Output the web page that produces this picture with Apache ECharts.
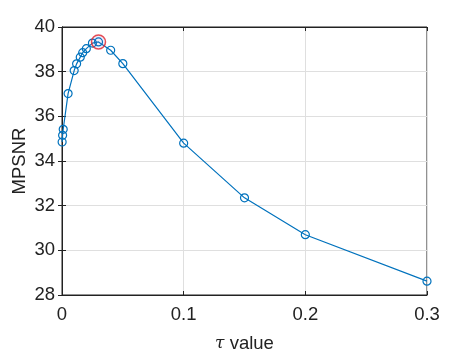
<!DOCTYPE html>
<html>
<head>
<meta charset="utf-8">
<script src="https://cdn.jsdelivr.net/npm/echarts@6/dist/echarts.min.js"></script>
<style>
  html, body { margin: 0; padding: 0; background: #fff; }
  #chart { width: 472px; height: 354px; }
</style>
</head>
<body>
<div id="chart"></div>
<script>
// tau values and MPSNR
var tauValues = [0.0001, 0.0005, 0.001, 0.005, 0.01, 0.012, 0.015, 0.017, 0.02, 0.025, 0.03, 0.04, 0.05, 0.1, 0.15, 0.2, 0.3];
var mpsnrValues = [34.85, 35.15, 35.42, 37.02, 38.05, 38.35, 38.65, 38.85, 39.03, 39.28, 39.33, 38.96, 38.36, 34.8, 32.35, 30.7, 28.62];
// best point, circled in red
var bestTau = [0.03];
var bestValue = [39.33];

var xTicks = [0, 0.1, 0.2, 0.3];
var yTicks = [28, 30, 32, 34, 36, 38, 40];

var blue = '#0072BD';
var axisColor = '#222';
var font = 'Liberation Sans, Arial, sans-serif';

var chart = echarts.init(document.getElementById('chart'));

var lineData = tauValues.map(function (t, i) { return [t, mpsnrValues[i]]; });
var bestData = bestTau.map(function (t, i) { return [t, bestValue[i]]; });

var baseX = {
    type: 'value',
    min: xTicks[0],
    max: xTicks[xTicks.length - 1],
    interval: 0.1
};
var baseY = {
    type: 'value',
    min: yTicks[0],
    max: yTicks[yTicks.length - 1],
    interval: 2
};

var option = {
    animation: false,
    backgroundColor: '#fff',
    grid: {
        left: 62, right: 45, top: 27, bottom: 59,
        outerBoundsMode: 'none',
        containLabel: false,
        show: true, borderColor: axisColor, borderWidth: 1,
        backgroundColor: 'transparent'
    },
    xAxis: [
        Object.assign({}, baseX, {
            position: 'bottom',
            name: '{t|τ} value',
            nameLocation: 'middle',
            nameGap: 39,
            nameMoveOverlap: false,
            nameTextStyle: {
                fontFamily: font, fontSize: 18.5, color: axisColor,
                rich: { t: { fontFamily: 'DejaVu Serif, serif', fontStyle: 'italic', fontSize: 17, color: axisColor } }
            },
            axisLine: { show: true, lineStyle: { color: axisColor, width: 1 } },
            axisTick: { show: true, inside: true, length: 4, lineStyle: { color: axisColor } },
            axisLabel: {
                fontFamily: font, fontSize: 18.5, color: axisColor, margin: 10,
                formatter: function (v) { return String(+v.toFixed(1)); }
            },
            splitLine: { show: true, lineStyle: { color: '#dfdfdf', width: 1 } }
        }),
        Object.assign({}, baseX, {
            position: 'top',
            axisLine: { show: true, lineStyle: { color: axisColor, width: 1 } },
            axisTick: { show: true, inside: true, length: 4, lineStyle: { color: axisColor } },
            axisLabel: { show: false },
            splitLine: { show: false }
        })
    ],
    yAxis: [
        Object.assign({}, baseY, {
            position: 'left',
            name: 'MPSNR',
            nameLocation: 'middle',
            nameGap: 33,
            nameMoveOverlap: false,
            nameTextStyle: { fontFamily: font, fontSize: 18.5, color: axisColor },
            axisLine: { show: true, lineStyle: { color: axisColor, width: 1 } },
            axisTick: { show: true, inside: true, length: 4, lineStyle: { color: axisColor } },
            axisLabel: { fontFamily: font, fontSize: 18.5, color: axisColor, margin: 7 },
            splitLine: { show: true, lineStyle: { color: '#dfdfdf', width: 1 } }
        }),
        Object.assign({}, baseY, {
            position: 'right',
            axisLine: { show: true, lineStyle: { color: axisColor, width: 1 } },
            axisTick: { show: true, inside: true, length: 4, lineStyle: { color: axisColor } },
            axisLabel: { show: false },
            splitLine: { show: false }
        })
    ],
    series: [
        {
            type: 'line',
            xAxisIndex: 0,
            yAxisIndex: 0,
            data: lineData,
            symbol: 'circle',
            symbolSize: 8,
            showAllSymbol: true,
            lineStyle: { color: blue, width: 1.2 },
            itemStyle: { color: 'rgba(255,255,255,0)', borderColor: blue, borderWidth: 1.2 },
            z: 3
        },
        {
            type: 'scatter',
            xAxisIndex: 0,
            yAxisIndex: 0,
            data: bestData,
            symbol: 'circle',
            symbolSize: 14,
            itemStyle: { color: 'rgba(120,110,200,0.15)', borderColor: '#e0202a', borderWidth: 1.5 },
            z: 4
        }
    ]
};

chart.setOption(option);
</script>
</body>
</html>
